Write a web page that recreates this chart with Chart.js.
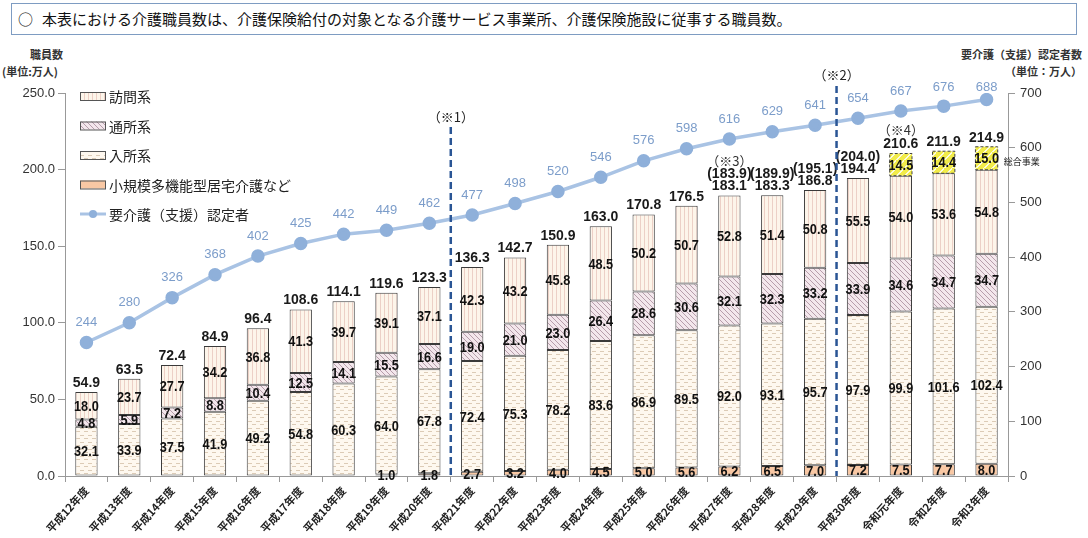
<!DOCTYPE html>
<html>
<head>
<meta charset="utf-8">
<script src="https://cdn.jsdelivr.net/npm/chart.js@4"></script>
<style>
  body { margin: 0; width: 1088px; height: 538px; position: relative; background: #fff; overflow: hidden;
         font-family: "Noto Sans CJK JP", sans-serif; }
  #title { position: absolute; left: 11px; top: 3px; width: 1058px; height: 30px; border: 1.5px solid #7e9cc2;
           font-size: 15px; line-height: 30px; padding-left: 6px; color: #111; }
  #title span { margin-right: 9px; }
  .ax { position: absolute; font-size: 11px; font-weight: bold; color: #333; white-space: nowrap; }
  #c { position: absolute; left: 0; top: 0; }
</style>
</head>
<body>
<div id="title"><span>○</span>本表における介護職員数は、介護保険給付の対象となる介護サービス事業所、介護保険施設に従事する職員数。</div>
<div class="ax" style="left:30px;top:46px">職員数</div>
<div class="ax" style="left:2px;top:63px">(単位:万人)</div>
<div class="ax" style="right:6px;top:46px">要介護（支援）認定者数</div>
<div class="ax" style="right:6px;top:63px">（単位：万人）</div>
<canvas id="c" width="1088" height="538"></canvas>
<script>
// 年度
let years = ["平成12年度", "平成13年度", "平成14年度", "平成15年度", "平成16年度", "平成17年度",
  "平成18年度", "平成19年度", "平成20年度", "平成21年度", "平成22年度", "平成23年度",
  "平成24年度", "平成25年度", "平成26年度", "平成27年度", "平成28年度", "平成29年度",
  "平成30年度", "令和元年度", "令和2年度", "令和3年度"];

// 職員数 (万人)
let small = [null, null, null, null, null, null, null, 1.0, 1.8, 2.7, 3.2, 4.0, 4.5, 5.0, 5.6, 6.2, 6.5, 7.0, 7.2, 7.5, 7.7, 8.0];
let nyusho = [32.1, 33.9, 37.5, 41.9, 49.2, 54.8, 60.3, 64.0, 67.8, 72.4, 75.3, 78.2, 83.6, 86.9, 89.5, 92.0, 93.1, 95.7, 97.9, 99.9, 101.6, 102.4];
let tsusho = [4.8, 5.9, 7.2, 8.8, 10.4, 12.5, 14.1, 15.5, 16.6, 19.0, 21.0, 23.0, 26.4, 28.6, 30.6, 32.1, 32.3, 33.2, 33.9, 34.6, 34.7, 34.7];
let homon = [18.0, 23.7, 27.7, 34.2, 36.8, 41.3, 39.7, 39.1, 37.1, 42.3, 43.2, 45.8, 48.5, 50.2, 50.7, 52.8, 51.4, 50.8, 55.5, 54.0, 53.6, 54.8];
let sogo = [null, null, null, null, null, null, null, null, null, null, null, null, null, null, null, null, null, null, null, 14.5, 14.4, 15.0];
let totals = [54.9, 63.5, 72.4, 84.9, 96.4, 108.6, 114.1, 119.6, 123.3, 136.3, 142.7, 150.9, 163.0, 170.8, 176.5, 183.1, 183.3, 186.8, 194.4, 210.6, 211.9, 214.9];
let altTotals = {15: "(183.9)", 16: "(189.9)", 17: "(195.1)", 18: "(204.0)"};
let notes = {15: "（※3）", 19: "（※4）"};

// 要介護（支援）認定者数 (万人)
let nintei = [244, 280, 326, 368, 402, 425, 442, 449, 462, 477, 498, 520, 546, 576, 598, 616, 629, 641, 654, 667, 676, 688];

let leftTicks = [0, 50, 100, 150, 200, 250];
let rightTicks = [0, 100, 200, 300, 400, 500, 600, 700];

function makePattern(w, h, bg, draw) {
  const c = document.createElement("canvas");
  c.width = w; c.height = h;
  const g = c.getContext("2d");
  g.fillStyle = bg;
  g.fillRect(0, 0, w, h);
  draw(g);
  return g.createPattern(c, "repeat");
}

const patHomon = makePattern(4, 2, "#fdf5ea", g => { g.fillStyle = "#ecd0c6"; g.fillRect(0, 0, 1, 2); });
const patTsusho = makePattern(5, 5, "#f3e7ec", g => {
  g.fillStyle = "#b79dab";
  for (let i = 0; i < 5; i++) g.fillRect(i, i, 1, 1);
});
const patNyusho = makePattern(8, 7, "#fef8ef", g => {
  g.fillStyle = "#dccbb6";
  g.fillRect(0, 1, 4, 1);
  g.fillRect(4, 4, 4, 1);
});
const patSogo = makePattern(8, 8, "#f2ec4a", g => {
  g.fillStyle = "#fbfbe0";
  for (let i = 0; i < 8; i++) { g.fillRect(7 - i, i, 2, 1); }
});
const smallColor = "#f9c8a4";
const lineColor = "#a9c3e4";
const pointColor = "#8fb0da";

function condensed(ctx, text, x, y, sx) {
  ctx.save();
  ctx.translate(x, y);
  ctx.scale(sx, 1);
  ctx.fillText(text, 0, 0);
  ctx.restore();
}

const labelPlugin = {
  id: "labels",
  afterDatasetsDraw(chart) {
    const ctx = chart.ctx;
    const ys = chart.scales.y;
    const xs = chart.scales.x;
    const bottom = ys.getPixelForValue(0);
    ctx.save();

    // dashed outline of 総合事業
    const sogoMeta = chart.getDatasetMeta(4);
    sogoMeta.data.forEach((el, i) => {
      if (sogo[i] == null) return;
      ctx.setLineDash([3, 2]);
      ctx.strokeStyle = "#444";
      ctx.lineWidth = 1;
      ctx.strokeRect(el.x - el.width / 2, el.y, el.width, el.base - el.y);
      ctx.setLineDash([]);
    });

    // segment values
    ctx.textAlign = "center";
    ctx.textBaseline = "middle";
    ctx.font = "bold 15px 'Liberation Sans'";
    ctx.fillStyle = "#111";
    for (let d = 0; d < 5; d++) {
      const meta = chart.getDatasetMeta(d);
      const vals = chart.data.datasets[d].data;
      meta.data.forEach((el, i) => {
        if (vals[i] == null) return;
        condensed(ctx, vals[i].toFixed(1), el.x, (el.y + el.base) / 2 + 1, 0.85);
      });
    }

    // totals
    const m0 = chart.getDatasetMeta(1);
    m0.data.forEach((el, i) => {
      const sum = (small[i] || 0) + nyusho[i] + tsusho[i] + homon[i] + (sogo[i] || 0);
      const top = ys.getPixelForValue(sum);
      const ty = top - 9;
      ctx.font = "bold 14px 'Liberation Sans'";
      ctx.fillStyle = "#1a1a1a";
      ctx.fillText(totals[i].toFixed(1), el.x, ty);
      let ny = ty - 14;
      if (altTotals[i]) {
        ctx.fillText(altTotals[i], el.x, ty - 12);
        ny = ty - 25;
      }
      if (notes[i]) {
        ctx.font = "13px 'Noto Sans CJK JP'";
        ctx.fillStyle = "#333";
        ctx.fillText(notes[i], el.x, ny);
      }
    });

    // 総合事業 tag
    const last = sogoMeta.data[sogoMeta.data.length - 1];
    ctx.font = "9px 'Noto Sans CJK JP'";
    ctx.fillStyle = "#222";
    ctx.textAlign = "left";
    ctx.fillText("総合事業", last.x + last.width / 2 + 6, (last.y + last.base) / 2 + 3);

    // line values
    ctx.textAlign = "center";
    ctx.font = "13px 'Liberation Sans'";
    ctx.fillStyle = "#7c9dca";
    const lm = chart.getDatasetMeta(5);
    lm.data.forEach((pt, i) => {
      ctx.fillText(String(nintei[i]), pt.x, Math.max(pt.y - 20, 87));
    });

    // dashed dividers
    const divs = [{after: 8, top: 127, text: "（※1）", ty: 117}, {after: 17, top: 86, text: "（※2）", ty: 75}];
    divs.forEach(dv => {
      const x = (xs.getPixelForValue(dv.after) + xs.getPixelForValue(dv.after + 1)) / 2;
      ctx.strokeStyle = "#2a5595";
      ctx.lineWidth = 2.5;
      ctx.setLineDash([7, 4]);
      ctx.beginPath();
      ctx.moveTo(x, dv.top);
      ctx.lineTo(x, bottom);
      ctx.stroke();
      ctx.setLineDash([]);
      ctx.font = "13px 'Noto Sans CJK JP'";
      ctx.fillStyle = "#222";
      ctx.fillText(dv.text, x, dv.ty);
    });

    // legend
    const items = [
      {text: "訪問系", fill: patHomon},
      {text: "通所系", fill: patTsusho},
      {text: "入所系", fill: patNyusho},
      {text: "小規模多機能型居宅介護など", fill: smallColor},
      {text: "要介護（支援）認定者", line: true}
    ];
    ctx.textAlign = "left";
    ctx.font = "14px 'Noto Sans CJK JP'";
    items.forEach((it, k) => {
      const cy = 96 + k * 29.5;
      if (it.line) {
        ctx.strokeStyle = lineColor;
        ctx.lineWidth = 3;
        ctx.beginPath();
        ctx.moveTo(80, cy);
        ctx.lineTo(106, cy);
        ctx.stroke();
        ctx.fillStyle = pointColor;
        ctx.beginPath();
        ctx.arc(93, cy, 4, 0, Math.PI * 2);
        ctx.fill();
      } else {
        ctx.fillStyle = it.fill;
        ctx.fillRect(80, cy - 4, 26, 8);
        ctx.strokeStyle = "#555";
        ctx.lineWidth = 1;
        ctx.strokeRect(80.5, cy - 3.5, 25, 8);
      }
      ctx.fillStyle = "#222";
      ctx.fillText(it.text, 109, cy + 1);
    });
    ctx.restore();
  }
};

const barCommon = {
  borderColor: "#3a3a3a",
  borderWidth: 1,
  borderSkipped: false,
  barPercentage: 0.52,
  categoryPercentage: 1.0,
  order: 1
};

new Chart(document.getElementById("c"), {
  type: "bar",
  data: {
    labels: years,
    datasets: [
      {...barCommon, label: "小規模多機能型居宅介護など", data: small, backgroundColor: smallColor},
      {...barCommon, label: "入所系", data: nyusho, backgroundColor: patNyusho},
      {...barCommon, label: "通所系", data: tsusho, backgroundColor: patTsusho},
      {...barCommon, label: "訪問系", data: homon, backgroundColor: patHomon},
      {...barCommon, label: "総合事業", data: sogo, backgroundColor: patSogo, borderWidth: 0},
      {
        type: "line", label: "要介護（支援）認定者", data: nintei, yAxisID: "y1", order: 0,
        borderColor: lineColor, borderWidth: 3.5, pointRadius: 5, pointBackgroundColor: pointColor,
        pointBorderColor: pointColor, tension: 0
      }
    ]
  },
  options: {
    responsive: false,
    animation: false,
    layout: {padding: {top: 93, left: 0, right: 0, bottom: 0}},
    plugins: {legend: {display: false}, tooltip: {enabled: false}},
    scales: {
      x: {
        stacked: true,
        grid: {drawOnChartArea: false, offset: true, tickLength: 6, color: "#999"},
        border: {color: "#999"},
        ticks: {
          autoSkip: false, minRotation: 48, maxRotation: 48, color: "#222", padding: 2,
          font: {family: "Noto Sans CJK JP", size: 11, weight: "bold"}
        },
        afterFit(s) { s.height = 62; }
      },
      y: {
        stacked: true, min: 0, max: 250,
        afterBuildTicks(s) { s.ticks = leftTicks.map(v => ({value: v})); },
        ticks: {callback: v => v.toFixed(1), color: "#333", font: {family: "Liberation Sans", size: 13}, padding: 3},
        grid: {drawOnChartArea: false, tickLength: 7, color: "#999"},
        border: {color: "#999"},
        afterFit(s) { s.width = 65; }
      },
      y1: {
        position: "right", min: 0, max: 700,
        afterBuildTicks(s) { s.ticks = rightTicks.map(v => ({value: v})); },
        ticks: {color: "#333", font: {family: "Liberation Sans", size: 13}, padding: 5},
        grid: {drawOnChartArea: false, tickLength: 7, color: "#999"},
        border: {color: "#999"},
        afterFit(s) { s.width = 80; }
      }
    }
  },
  plugins: [labelPlugin]
});
</script>
</body>
</html>
